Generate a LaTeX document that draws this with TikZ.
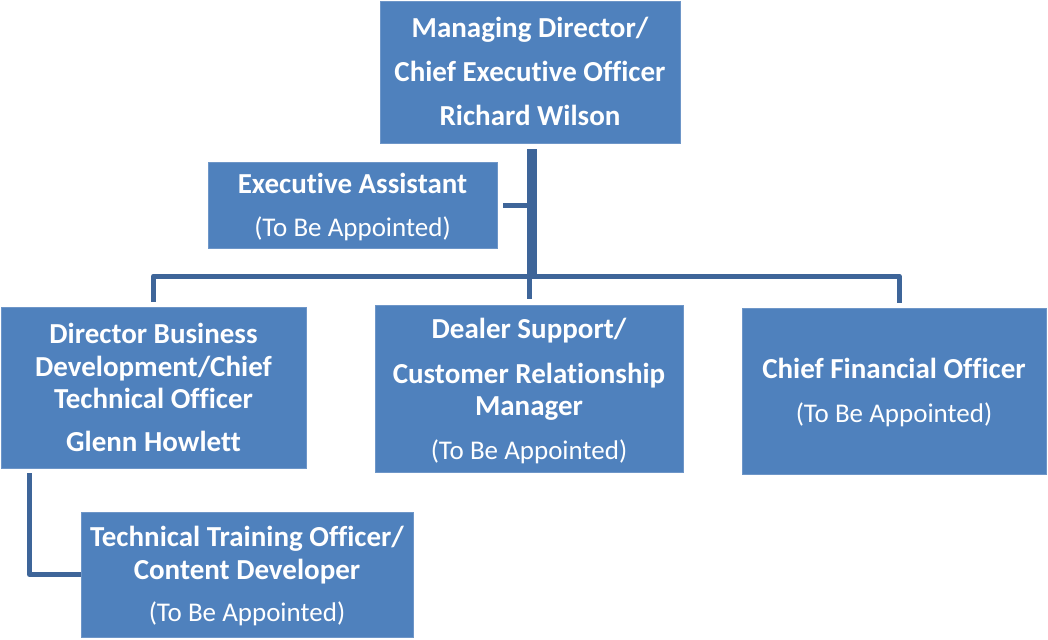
\documentclass[tikz,border=0pt]{standalone}
\usepackage{fontspec}
\setmainfont{Carlito}[Ligatures=NoCommon]
\definecolor{boxblue}{RGB}{79,129,189}
\definecolor{boxedge}{RGB}{110,150,200}
\definecolor{linkblue}{RGB}{62,101,153}
\newcommand{\tba}{{\mdseries\fontsize{27}{32.5}\selectfont (To Be Appointed)}}
\begin{document}
\begin{tikzpicture}[x=1pt,y=-1pt,
  orgbox/.style={rectangle, fill=boxblue, draw=boxedge, line width=0.8pt,
    inner sep=0pt},
  orgtext/.style={inner sep=0pt, align=center, text=white,
    font=\fontsize{29}{32.5}\selectfont\bfseries},
  link/.style={draw=linkblue, line width=5pt, line join=round},
  trunk/.style={draw=linkblue, line width=10pt}]
\useasboundingbox (0,0) rectangle (1048,639);

% boxes
\node[orgbox, minimum width=300pt, minimum height=142pt] (md) at (530,72) {};
\node[orgbox, minimum width=289pt, minimum height=86pt] (ea) at (352.5,205) {};
\node[orgbox, minimum width=305pt, minimum height=161pt] (dbd) at (153.5,387.5) {};
\node[orgbox, minimum width=308pt, minimum height=167pt] (dsc) at (529,388.5) {};
\node[orgbox, minimum width=304pt, minimum height=166pt] (cfo) at (894,391) {};
\node[orgbox, minimum width=332pt, minimum height=125pt] (tto) at (247,574.5) {};

% box texts
\node[orgtext, yshift=1pt] (md-t) at (md)
  {Managing Director/\\[11.5pt] Chief Executive Officer\\[11.5pt] Richard Wilson};
\node[orgtext, yshift=-2pt] (ea-t) at (ea)
  {Executive Assistant\\[10.5pt] \tba};
\node[orgtext] (dbd-t) at (dbd)
  {Director Business\\ Development/Chief\\ Technical Officer\\[10.5pt] Glenn Howlett};
\node[orgtext, yshift=-2.5pt] (dsc-t) at (dsc)
  {Dealer Support/\\[12.5pt] Customer Relationship\\ Manager\\[11.5pt] \tba};
\node[orgtext, yshift=-1.5pt] (cfo-t) at (cfo)
  {Chief Financial Officer\\[12pt] \tba};
\node[orgtext, yshift=-1.5pt] (tto-t) at (tto)
  {Technical Training Officer/\\ Content Developer\\[9.5pt] \tba};

% junction points on the horizontal bar
\coordinate (barL) at ([yshift=31pt]dbd.north);
\coordinate (barR) at ([xshift=5pt,yshift=31.5pt]cfo.north);
\coordinate (barM) at ([yshift=28.5pt]dsc.north);
\coordinate (trunkTop) at ([xshift=1.7pt,yshift=-6pt]md.south);
\coordinate (trunkBot) at (trunkTop |- barM);

% connectors
\draw[trunk] (trunkTop) -- ([yshift=-2.5pt]trunkBot);
\draw[link] ([xshift=6pt]ea.east) -- (trunkTop |- ea.east);
\draw[link] ([yshift=5pt]dbd.north -| barL) |- (barM) -| ([yshift=5pt]cfo.north -| barR);
\draw[link] (barM) -- ([yshift=6pt]dsc.north);
\draw[link] ([xshift=-124pt,yshift=-5pt]dbd.south) |- (tto.west);
\end{tikzpicture}
\end{document}
